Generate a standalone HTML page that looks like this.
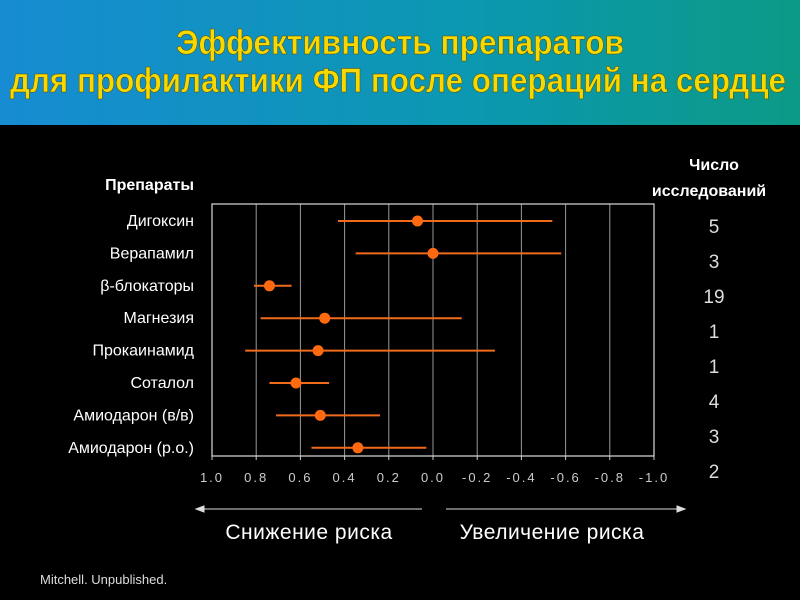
<!DOCTYPE html>
<html><head><meta charset="utf-8"><style>
html,body{margin:0;padding:0;background:#000;}
svg{display:block;font-family:"Liberation Sans Narrow","Liberation Sans",sans-serif;}
</style></head><body>
<svg width="800" height="600" xmlns="http://www.w3.org/2000/svg">
<defs>
<linearGradient id="bg" x1="0" x2="1" y1="0" y2="0"><stop offset="0" stop-color="#178cd2"/><stop offset="0.6" stop-color="#0b98b0"/><stop offset="1" stop-color="#0c9a86"/></linearGradient>
</defs>
<rect x="0" y="0" width="800" height="600" fill="#000"/>
<rect x="0" y="0" width="800" height="125" fill="url(#bg)"/>
<g font-weight="bold" font-size="34" fill="#f7d800" text-anchor="middle" stroke="#5a4a00" stroke-width="0.5">
<text x="400" y="54" textLength="448" lengthAdjust="spacingAndGlyphs">Эффективность препаратов</text>
<text x="398" y="92" textLength="776" lengthAdjust="spacingAndGlyphs">для профилактики ФП после операций на сердце</text>
</g>
<text x="194" y="190" fill="#fff" font-weight="bold" font-size="16" text-anchor="end">Препараты</text>
<text x="714" y="170" fill="#fff" font-weight="bold" font-size="16" text-anchor="middle">Число</text>
<text x="709" y="196" fill="#fff" font-weight="bold" font-size="16" text-anchor="middle">исследований</text>
<g id="plot"></g>
<g stroke="#ddd" stroke-width="1" fill="#ddd">
<line x1="200" y1="509" x2="422" y2="509"/><polygon points="196,509 204,506 204,512"/>
<line x1="446" y1="509" x2="680" y2="509"/><polygon points="685,509 677,506 677,512"/>
</g>
<text x="309" y="539" fill="#fff" font-size="21" text-anchor="middle" letter-spacing="0.5">Снижение  риска</text>
<text x="552" y="539" fill="#fff" font-size="21" text-anchor="middle" letter-spacing="0.5">Увеличение  риска</text>
<text x="40" y="584" fill="#ddd" font-size="13">Mitchell. Unpublished.</text>
</svg>
<script>
const drugs=["Дигоксин","Верапамил","β-блокаторы","Магнезия","Прокаинамид","Соталол","Амиодарон (в/в)","Амиодарон (р.о.)"];
const estimates=[0.07,0.0,0.74,0.49,0.52,0.62,0.51,0.34];
const lowerCI=[0.43,0.35,0.81,0.78,0.85,0.74,0.71,0.55];
const upperCI=[-0.54,-0.58,0.64,-0.13,-0.28,0.47,0.24,0.03];
const studies=[5,3,19,1,1,4,3,2];
const ticks=[1.0,0.8,0.6,0.4,0.2,0.0,-0.2,-0.4,-0.6,-0.8,-1.0];
const NS="http://www.w3.org/2000/svg";
const g=document.getElementById('plot');
const L=212,R=654,T=204,B=456;
function xs(v){return L+(1-v)/2*(R-L);}
function ys(i){return 221+i*32.4;}
function mk(t,a,p){const e=document.createElementNS(NS,t);for(const k in a)e.setAttribute(k,a[k]);(p||g).appendChild(e);return e;}
ticks.forEach((t,i)=>{
 const x=xs(t);
 const gl=mk('line',{x1:x,x2:x,y1:T,y2:B,stroke:'#999','stroke-width':1});
 
 
 mk('line',{x1:x,x2:x,y1:B,y2:B+4,stroke:'#ccc'});
 const tx=mk('text',{x:x,y:482,fill:'#ccc','font-size':13,'text-anchor':'middle','letter-spacing':'2'});
 tx.textContent=t.toFixed(1);
 
 
});
const fr=mk('rect',{x:L,y:T,width:R-L,height:B-T,fill:'none',stroke:'#ddd','stroke-width':1.2});


drugs.forEach((d,i)=>{
 const y=ys(i);
 const lab=mk('text',{x:194,y:y+5,fill:'#fff','font-size':16,'text-anchor':'end'});
 lab.textContent=d;
 
 
 const ci=mk('line',{x1:xs(lowerCI[i]),x2:xs(upperCI[i]),y1:y,y2:y,stroke:'#f26a1b','stroke-width':2});
 
 
 const pt=mk('circle',{cx:xs(estimates[i]),cy:y,r:5.5,fill:'#ff6a10'});
 
 
 const n=mk('text',{x:714,y:233+i*35,fill:'#ddd','font-size':19,'text-anchor':'middle'});
 n.textContent=studies[i];
 
 
});
</script>
</body></html>
